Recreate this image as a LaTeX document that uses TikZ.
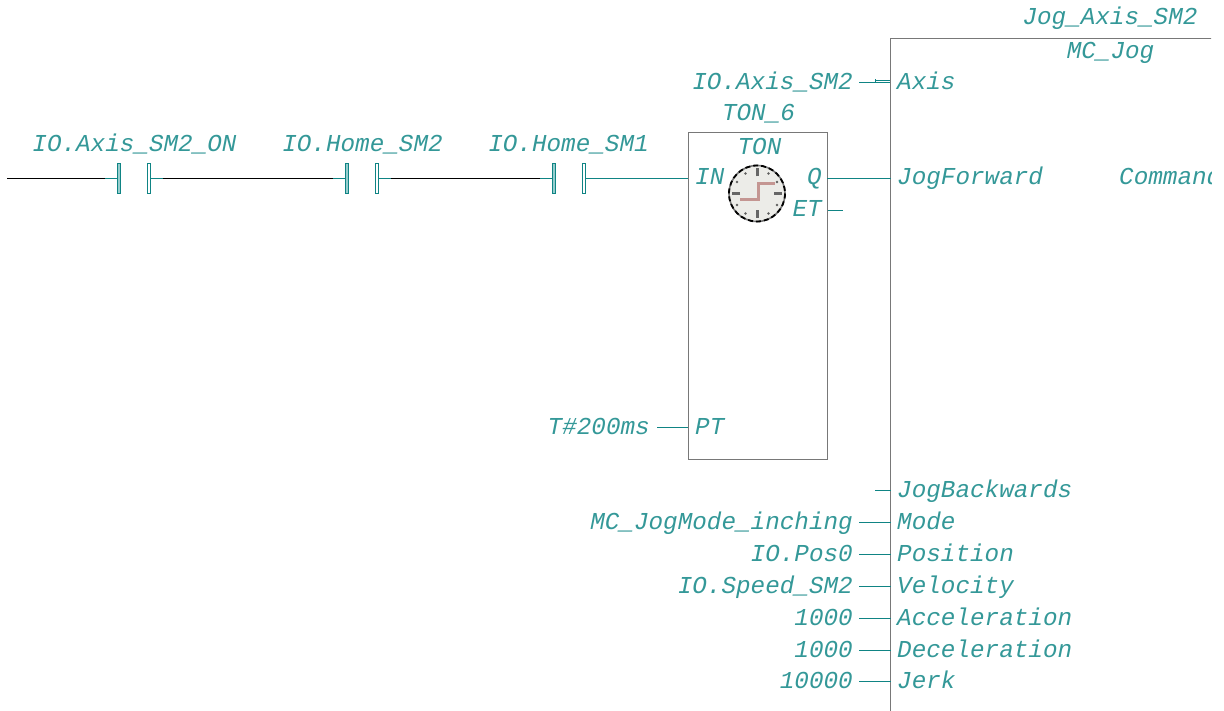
\documentclass[tikz,border=0pt]{standalone}
\usepackage{fontspec}
\setmonofont{Liberation Mono}
\usetikzlibrary{positioning,calc}
\definecolor{plcTeal}{RGB}{15,132,132}
\definecolor{plcText}{RGB}{52,152,152}
\definecolor{plcGray}{RGB}{120,120,120}
\definecolor{plcPlate}{RGB}{150,205,205}
\definecolor{plcFace}{RGB}{236,236,232}
\definecolor{plcStep}{RGB}{196,150,146}
\tikzset{
  lbl/.style={plcText,font=\ttfamily\itshape\fontsize{24.3}{26}\selectfont,inner sep=0pt},
  wire/.style={plcTeal,line width=1.3pt},
  rung/.style={black,line width=1.5pt},
  fbox/.style={draw=plcGray,line width=1.1pt},
  plate/.style={draw=plcTeal,line width=0.9pt,minimum width=3pt,minimum height=30pt,inner sep=0pt}
}
\begin{document}
\begin{tikzpicture}[x=1pt,y=-1pt]
  \useasboundingbox (0,0) rectangle (1224,711);
  % power rail
  \coordinate (rail) at (7,178.5);
  % contacts: left plate, right plate, label centre
  \foreach \n/\xa/\xb/\xl/\txt in {1/118.7/148.7/134.5/IO.Axis\_SM2\_ON, 2/347.2/377.3/362.5/IO.Home\_SM2, 3/554.2/583.5/568.5/IO.Home\_SM1} {
    \node[plate,fill=plcPlate] (c\n l) at (\xa,178.5) {};
    \node[plate,fill=white] (c\n r) at (\xb,178.5) {};
    \node[lbl,anchor=base] (c\n t) at (\xl,152) {\txt};
    \coordinate (c\n a) at (\xa-14,178.5);
    \coordinate (c\n b) at (\xb+14,178.5);
    \draw[wire] (c\n a) -- (c\n l.west);
    \draw[wire] (c\n r.east) -- (c\n b);
  }
  \draw[rung] (rail) -- (c1a);
  \draw[rung] (c1b) -- (c2a);
  \draw[rung] (c2b) -- (c3a);
  % timer block
  \node[fbox,minimum width=139pt,minimum height=327pt,inner sep=0pt] (ton) at (758,296) {};
  \node[lbl,anchor=base] (tonname) at (758.5,121) {TON\_6};
  \node[lbl,anchor=base] (tontype) at (759.5,155) {TON};
  \node[lbl,anchor=base west] (tonin) at (695,185) {IN};
  \node[lbl,anchor=base east] (tonq) at (822,185) {Q};
  \node[lbl,anchor=base east] (tonet) at (822,217) {ET};
  \node[lbl,anchor=base west] (tonpt) at (695,434) {PT};
  \node[lbl,anchor=base east] (ptval) at (650,434) {T\#200ms};
  \coordinate (ptw) at (657,427.5);
  \coordinate (etw) at (843,210.5);
  \draw[wire] (c3b) -- (c3b -| ton.west);
  \draw[wire] (ptw) -- (ptw -| ton.west);
  \draw[wire] (etw -| ton.east) -- (etw);
  % clock
  \node[circle,draw=plcGray,line width=1.6pt,fill=plcFace,minimum size=56pt,inner sep=0pt] (clock) at (757,193.5) {};
  \draw[black,dash pattern=on 5pt off 3pt,line width=1.8pt] (clock.center) circle (28);
  \foreach \a in {30,60,120,150,210,240,300,330}
    \fill[plcGray!80!black] (clock.center) ++(\a:23) circle (1.4);
  \foreach \a in {0,90,180,270}
    \draw[plcGray!85!black,line width=3pt] (clock.center) ++(\a:17) -- ++(\a:8);
  \draw[plcStep,line width=3pt] (740,200) -- (758,200) -- (758,183.5) -- (775,183.5);
  % jog block
  \begin{scope}
    \clip (0,0) rectangle (1211,711);
    \coordinate (jogtl) at (890.5,38.5);
    \coordinate (jogtr) at (1224,38.5);
    \coordinate (jogbl) at (890.5,711);
    \draw[fbox] (jogtr) -- (jogtl) -- (jogbl);
    \node[lbl,anchor=base] (jogname) at (1110,25) {Jog\_Axis\_SM2};
    \node[lbl,anchor=base] (jogtype) at (1110.5,59) {MC\_Jog};
    \node[lbl,anchor=base west] (jogcmd) at (1119,185) {Command};
  \end{scope}
  % pins with value
  \foreach \n/\y/\pin/\val in {mode/522.5/Mode/MC\_JogMode\_inching, pos/554.5/Position/IO.Pos0, vel/586.5/Velocity/IO.Speed\_SM2, acc/618.5/Acceleration/1000, dec/650.5/Deceleration/1000, jerk/681.5/Jerk/10000} {
    \node[lbl,anchor=base west] (\n) at (897,\y+7) {\pin};
    \node[lbl,anchor=base east] (\n v) at (853,\y+7) {\val};
    \coordinate (\n a) at (859,\y);
    \draw[wire] (\n a) -- (\n a -| jogtl);
  }
  % remaining pins
  \node[lbl,anchor=base west] (axis) at (897,90) {Axis};
  \node[lbl,anchor=base east] (axisv) at (853,90) {IO.Axis\_SM2};
  \coordinate (axisa) at (859,82.5);
  \coordinate (axisb) at (875,82.5);
  \draw[wire] (axisa) -- (axisb);
  \draw[wire,line width=0.9pt] (875,80) -- (890,80) (875,82.5) -- (890,82.5) (875,79.5) -- (875,83);
  \node[lbl,anchor=base west] (fwd) at (897,185) {JogForward};
  \coordinate (fwda) at (827,178.5);
  \draw[wire] (fwda) -- (fwda -| jogtl);
  \node[lbl,anchor=base west] (bwd) at (897,497) {JogBackwards};
  \coordinate (bwda) at (875,490.5);
  \draw[wire] (bwda) -- (bwda -| jogtl);
\end{tikzpicture}
\end{document}
